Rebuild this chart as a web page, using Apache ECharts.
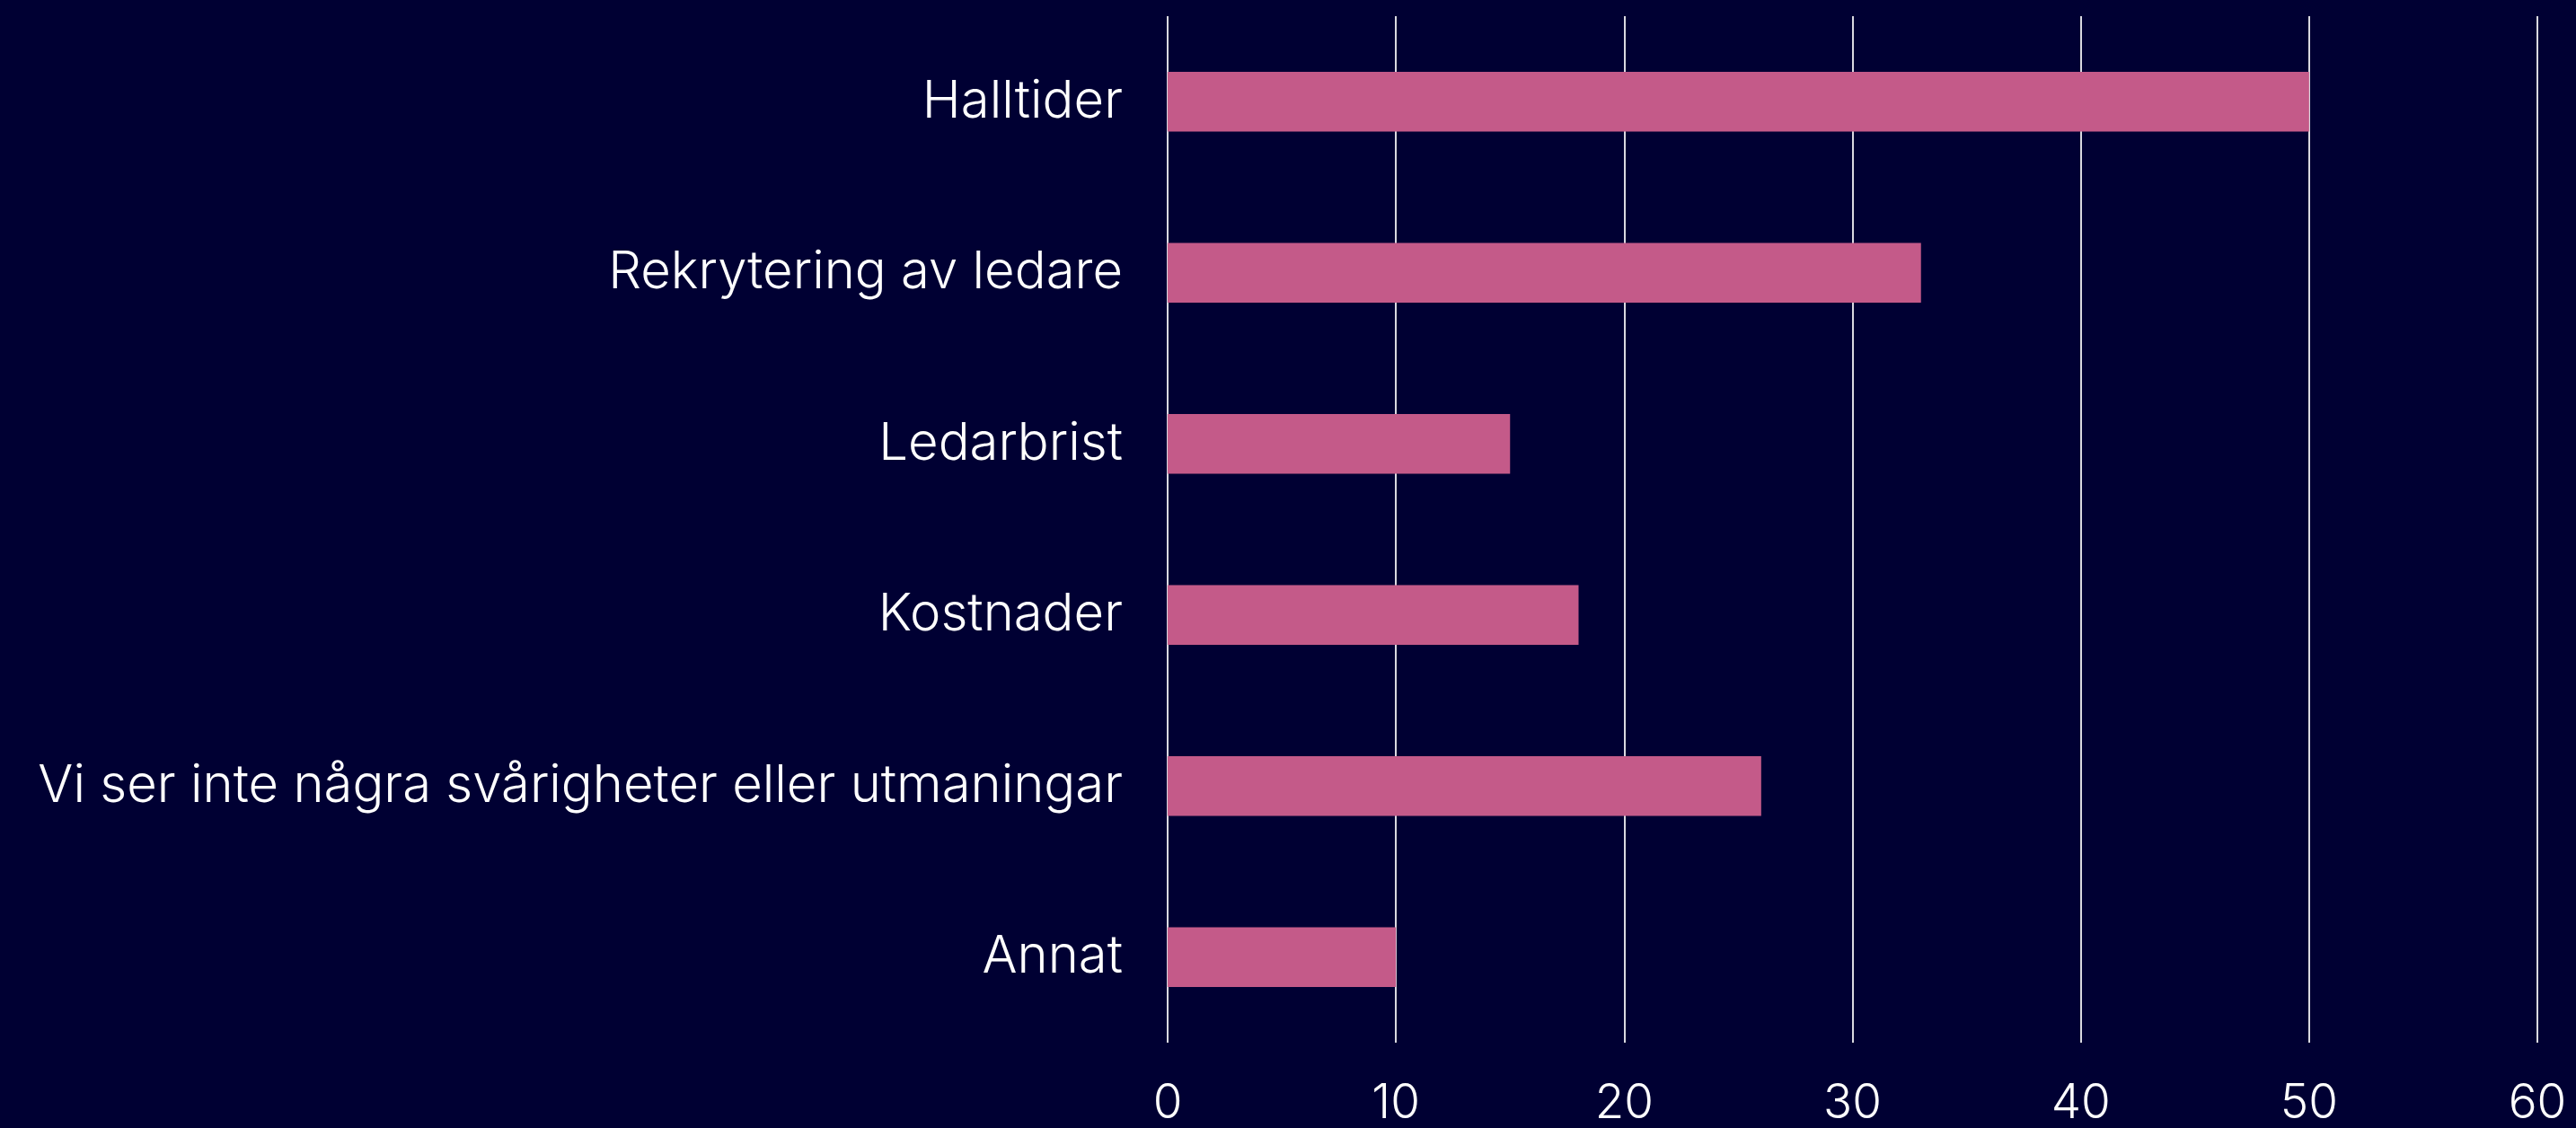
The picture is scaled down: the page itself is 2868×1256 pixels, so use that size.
<!DOCTYPE html>
<html>
<head>
<meta charset="utf-8">
<script src="https://cdn.jsdelivr.net/npm/echarts@6/dist/echarts.min.js"></script>
<style>
html,body{margin:0;padding:0;background:#000033;}
#chart{width:2868px;height:1256px;}
</style>
</head>
<body>
<div id="chart"></div>
<script>
const categories = ["Halltider", "Rekrytering av ledare", "Ledarbrist", "Kostnader", "Vi ser inte några svårigheter eller utmaningar", "Annat"];
const values = [50, 33, 15, 18, 26, 10];
const xTicks = { min: 0, max: 60, interval: 10 };

const chart = echarts.init(document.getElementById('chart'));
chart.setOption({
  backgroundColor: '#000033',
  animation: false,
  grid: { left: 1300, right: 43, top: 18, bottom: 93, containLabel: false },
  xAxis: {
    type: 'value', min: xTicks.min, max: xTicks.max, interval: xTicks.interval,
    axisLine: { show: false }, axisTick: { show: false },
    splitLine: { show: true, lineStyle: { color: '#d9d9e0', width: 2 } },
    axisLabel: { color: '#ffffff', fontSize: 53, fontFamily: 'Inter', fontWeight: 300, margin: 42 }
  },
  yAxis: {
    type: 'category', data: categories, inverse: true,
    axisLine: { show: false }, axisTick: { show: false },
    axisLabel: { color: '#ffffff', fontSize: 58, fontFamily: 'Inter', fontWeight: 300, margin: 50 }
  },
  series: [{
    type: 'bar', data: values, barWidth: '35%',
    itemStyle: { color: '#C45A89' }
  }]
});
</script>
</body>
</html>
